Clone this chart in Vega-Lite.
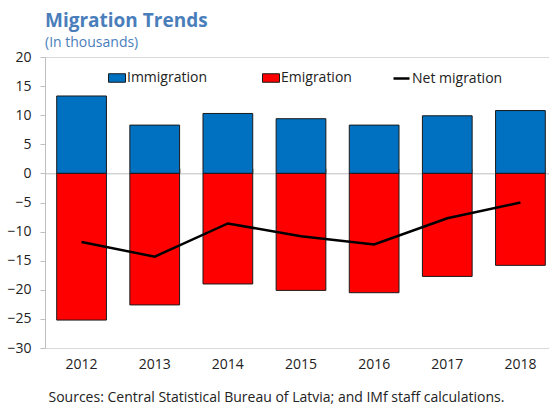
{
  "$schema": "https://vega.github.io/schema/vega-lite/v6.json",
  "autosize": {"type": "none"},
  "width": 512,
  "height": 291,
  "padding": {"left": 45, "top": 57, "right": 0, "bottom": 59},
  "background": "white",
  "title": {
    "text": "Migration Trends",
    "subtitle": "(In thousands)",
    "anchor": "start",
    "frame": "group",
    "font": "Open Sans",
    "fontSize": 19,
    "fontWeight": "bold",
    "color": "#4A7EBB",
    "subtitleFont": "Open Sans",
    "subtitleFontSize": 14,
    "subtitleColor": "#4A7EBB",
    "subtitlePadding": 5,
    "offset": 0
  },
  "config": {
    "view": {"stroke": "#D9D9D9", "strokeWidth": 1},
    "font": "Open Sans",
    "axis": {"grid": false, "labelFont": "Open Sans", "labelFontSize": 14, "labelColor": "#222222"},
    "legend": {"labelFont": "Open Sans", "labelFontSize": 14, "labelColor": "#222222"}
  },
  "data": {
    "values": [
      {"year": "2012", "Immigration": 13.3, "Emigration": -25.2, "Net": -11.8},
      {"year": "2013", "Immigration": 8.3, "Emigration": -22.6, "Net": -14.3},
      {"year": "2014", "Immigration": 10.3, "Emigration": -19.0, "Net": -8.6},
      {"year": "2015", "Immigration": 9.4, "Emigration": -20.1, "Net": -10.8},
      {"year": "2016", "Immigration": 8.3, "Emigration": -20.5, "Net": -12.2},
      {"year": "2017", "Immigration": 9.9, "Emigration": -17.7, "Net": -7.7},
      {"year": "2018", "Immigration": 10.8, "Emigration": -15.8, "Net": -5.0}
    ]
  },
  "resolve": {"axis": {"x": "independent"}},
  "layer": [
    {
      "transform": [{"fold": ["Immigration", "Emigration"], "as": ["series", "value"]}],
      "mark": {"type": "bar", "stroke": "#1a1a1a", "strokeWidth": 1},
      "encoding": {
        "x": {
          "field": "year", "type": "nominal",
          "scale": {"paddingInner": 0.32, "paddingOuter": 0.16},
          "axis": {
            "orient": "bottom",
            "domain": false, "ticks": false, "tickSize": 0,
            "labelAngle": 0, "labelPadding": 9,
            "title": "Sources: Central Statistical Bureau of Latvia; and IMf staff calculations.",
            "titleFont": "Open Sans", "titleFontSize": 14, "titleFontWeight": "normal", "titleColor": "#222222",
            "titleAnchor": "start", "titleAlign": "left", "titleBaseline": "alphabetic",
            "titleX": 3, "titleY": 53
          }
        },
        "y": {
          "field": "value", "type": "quantitative", "stack": null,
          "scale": {"domain": [-30, 20], "nice": false},
          "axis": {
            "values": [-30, -25, -20, -15, -10, -5, 0, 5, 10, 15, 20],
            "labelOverlap": false,
            "title": null,
            "domainColor": "#BFBFBF", "tickColor": "#BFBFBF", "tickSize": 5, "labelPadding": 9
          }
        },
        "fill": {
          "field": "series", "type": "nominal",
          "scale": {"domain": ["Immigration", "Emigration"], "range": ["#0070C0", "#FF0000"]},
          "legend": {
            "title": null, "orient": "none", "direction": "horizontal",
            "legendX": 63, "legendY": 12,
            "symbolType": "M-1,-0.5H1V0.5H-1Z", "symbolSize": 289,
            "symbolStrokeColor": "#1a1a1a", "symbolStrokeWidth": 1,
            "labelOffset": 1, "columnPadding": 52
          }
        }
      }
    },
    {
      "mark": {"type": "line", "color": "black", "strokeWidth": 2.5},
      "encoding": {
        "x": {
          "field": "year", "type": "nominal",
          "axis": {
            "orient": "top", "offset": -116.3,
            "domainColor": "#BFBFBF", "tickColor": "#BFBFBF", "tickSize": 5,
            "tickBand": "extent", "labels": false, "title": null
          }
        },
        "y": {
          "field": "Net", "type": "quantitative",
          "axis": {
            "values": [-30, -25, -20, -15, -10, -5, 0, 5, 10, 15, 20],
            "labelOverlap": false,
            "title": null,
            "domainColor": "#BFBFBF", "tickColor": "#BFBFBF", "tickSize": 5, "labelPadding": 9
          }
        },
        "stroke": {
          "datum": "Net migration",
          "scale": {"domain": ["Net migration"], "range": ["black"]},
          "legend": {
            "title": null, "orient": "none", "direction": "horizontal",
            "legendX": 347, "legendY": 12,
            "symbolType": "stroke", "symbolSize": 256, "symbolStrokeWidth": 2.5,
            "labelOffset": 1
          }
        }
      }
    }
  ]
}
